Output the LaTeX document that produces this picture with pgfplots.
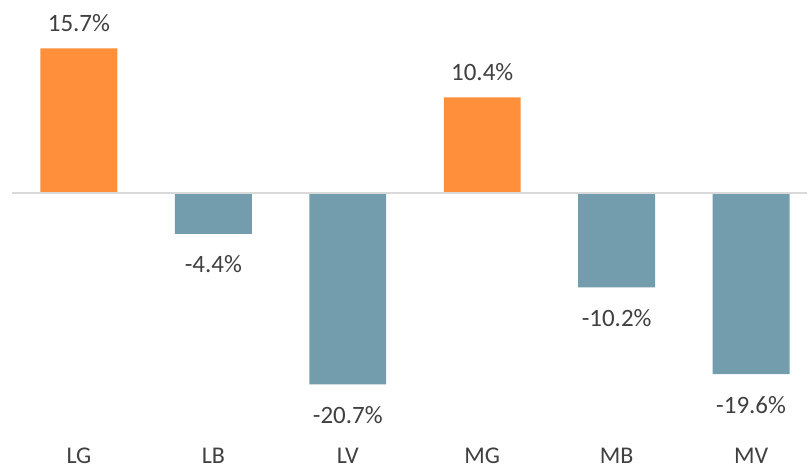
\documentclass[border=0pt]{standalone}
\usepackage{pgfplots}
\pgfplotsset{compat=1.18}
\usepackage{fontspec}
\setmainfont{Carlito}
\definecolor{barorange}{RGB}{255,143,59}
\definecolor{barblue}{RGB}{115,156,172}
\definecolor{txt}{RGB}{64,64,64}
\definecolor{zline}{RGB}{217,217,217}
\begin{document}
\begin{tikzpicture}
\begin{axis}[
  scale only axis, width=808pt, height=469pt,
  xmin=-0.587, xmax=5.416, ymin=-29.82, ymax=20.94,
  axis line style={draw=none},
  ytick=\empty,
  xtick={0,1,2,3,4,5}, xticklabels={LG,LB,LV,MG,MB,MV},
  major tick length=0pt,
  xticklabel style={anchor=base, yshift=5pt, inner sep=0pt, font=\fontsize{24}{29}\selectfont, text=txt},
  ybar, bar width=0.572, bar shift=0pt,
  clip=false,
]
\addplot[fill=barorange, draw=none,
  nodes near coords, point meta=explicit symbolic,
  every node near coord/.append style={font=\fontsize{25}{30}\selectfont, text=txt, inner sep=0pt, anchor=base, yshift=17pt}]
  coordinates {(0,15.7) [15.7\%] (3,10.4) [10.4\%]};
\addplot[fill=barblue, draw=none,
  nodes near coords, point meta=explicit symbolic,
  every node near coord/.append style={font=\fontsize{25}{30}\selectfont, text=txt, inner sep=0pt, anchor=base, yshift=-39pt}]
  coordinates {(1,-4.4) [-4.4\%] (2,-20.7) [-20.7\%] (4,-10.2) [-10.2\%] (5,-19.6) [-19.6\%]};
\addplot[sharp plot, draw=zline, line width=2pt, no marks] coordinates {(-0.5,0) (5.416,0)};
\end{axis}
\end{tikzpicture}
\end{document}
